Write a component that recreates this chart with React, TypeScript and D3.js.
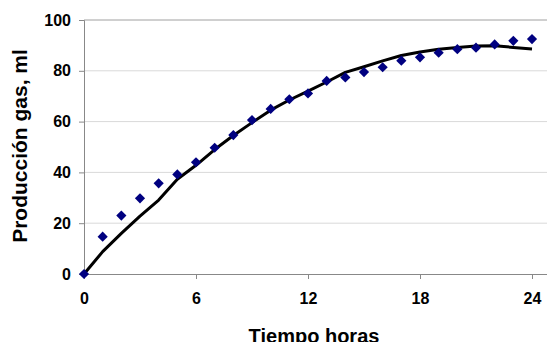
import React, { useEffect, useRef } from 'react'
import * as d3 from 'd3'

// horas
const hours = [0, 1, 2, 3, 4, 5, 6, 7, 8, 9, 10, 11, 12, 13, 14, 15, 16, 17, 18, 19, 20, 21, 22, 23, 24]
// datos observados (rombos)
const observed = [0, 14.7, 23, 29.8, 35.7, 39.2, 44, 49.7, 54.7, 60.6, 65, 68.8, 71.1, 76, 77.4, 79.5, 81.4, 84, 85.3, 87.1, 88.5, 89.1, 90.4, 91.8, 92.5]
// modelo (linea)
const fitted = [0, 8.8, 16, 22.8, 29.1, 37.3, 42.8, 49, 54.5, 59.6, 64.5, 68.5, 72, 75.6, 79.4, 81.6, 83.9, 86, 87.4, 88.5, 89.2, 89.8, 89.9, 89.2, 88.6]
const xTicks = [0, 6, 12, 18, 24]
const yTicks = [0, 20, 40, 60, 80, 100]

const App = () => {
  const ref = useRef<SVGSVGElement>(null)

  useEffect(() => {
    const svg = d3.select(ref.current)
    svg.selectAll('*').remove()

    const left = 84
    const right = 547
    const top = 20
    const bottom = 274

    const x = d3.scaleLinear().domain([0, 24]).range([left, 532])
    const y = d3.scaleLinear().domain([0, 100]).range([bottom, top])

    // gridlines
    svg
      .append('g')
      .selectAll('line')
      .data(yTicks.filter(d => d > 0 && d < 100))
      .enter()
      .append('line')
      .attr('x1', left)
      .attr('x2', right)
      .attr('y1', d => y(d))
      .attr('y2', d => y(d))
      .attr('stroke', '#d9d9d9')
      .attr('stroke-width', 1)

    // top border
    svg
      .append('line')
      .attr('x1', left)
      .attr('x2', right)
      .attr('y1', y(100))
      .attr('y2', y(100))
      .attr('stroke', '#a0a0a0')
      .attr('stroke-width', 1)

    const font = "'Liberation Sans', Arial, sans-serif"

    // yaxis
    const yAxis = svg
      .append('g')
      .attr('transform', `translate(${left}, 0)`)
      .call(d3.axisLeft(y).tickValues(yTicks).tickSize(5).tickPadding(8))
    yAxis.select('.domain').attr('stroke', '#888')
    yAxis.selectAll('.tick line').attr('stroke', '#888')
    yAxis
      .selectAll('text')
      .attr('font-family', font)
      .attr('font-size', '16px')
      .attr('font-weight', 'bold')
      .attr('fill', '#000')

    // xaxis
    const xAxis = svg
      .append('g')
      .attr('transform', `translate(0, ${bottom})`)
      .call(d3.axisBottom(x).tickValues(xTicks).tickSize(5).tickPadding(14))
    xAxis.select('.domain').attr('d', `M${left},0.5H${right}`).attr('stroke', '#888')
    xAxis.selectAll('.tick line').attr('stroke', '#888')
    xAxis
      .selectAll('text')
      .attr('font-family', font)
      .attr('font-size', '16px')
      .attr('font-weight', 'bold')
      .attr('fill', '#000')

    // model line
    const line = d3
      .line<number>()
      .x((d, i) => x(hours[i]))
      .y(d => y(d))
    svg
      .append('path')
      .datum(fitted)
      .attr('d', line)
      .attr('fill', 'none')
      .attr('stroke', '#000')
      .attr('stroke-width', 3)
      .attr('stroke-linejoin', 'round')

    // observed points
    const diamond = d3.symbol().type(d3.symbolSquare).size(52)
    svg
      .append('g')
      .selectAll('path')
      .data(observed)
      .enter()
      .append('path')
      .attr('d', diamond)
      .attr('transform', (d, i) => `translate(${x(hours[i])}, ${y(d)}) rotate(45)`)
      .attr('fill', '#000080')

    // xlab
    svg
      .append('text')
      .text('Tiempo horas')
      .attr('text-anchor', 'middle')
      .attr('font-family', font)
      .attr('font-weight', 'bold')
      .attr('font-size', '20px')
      .attr('x', 314)
      .attr('y', 343)

    // ylab
    svg
      .append('text')
      .text('Producción gas, ml')
      .attr('transform', 'rotate(-90)')
      .attr('text-anchor', 'middle')
      .attr('font-family', font)
      .attr('font-weight', 'bold')
      .attr('font-size', '21px')
      .attr('x', -146)
      .attr('y', 27)
  }, [])

  return (
    <svg
      width={547}
      height={342}
      ref={ref}
      style={{ position: 'absolute', left: 0, top: 0, background: '#fff' }}
    />
  )
}

export default App
